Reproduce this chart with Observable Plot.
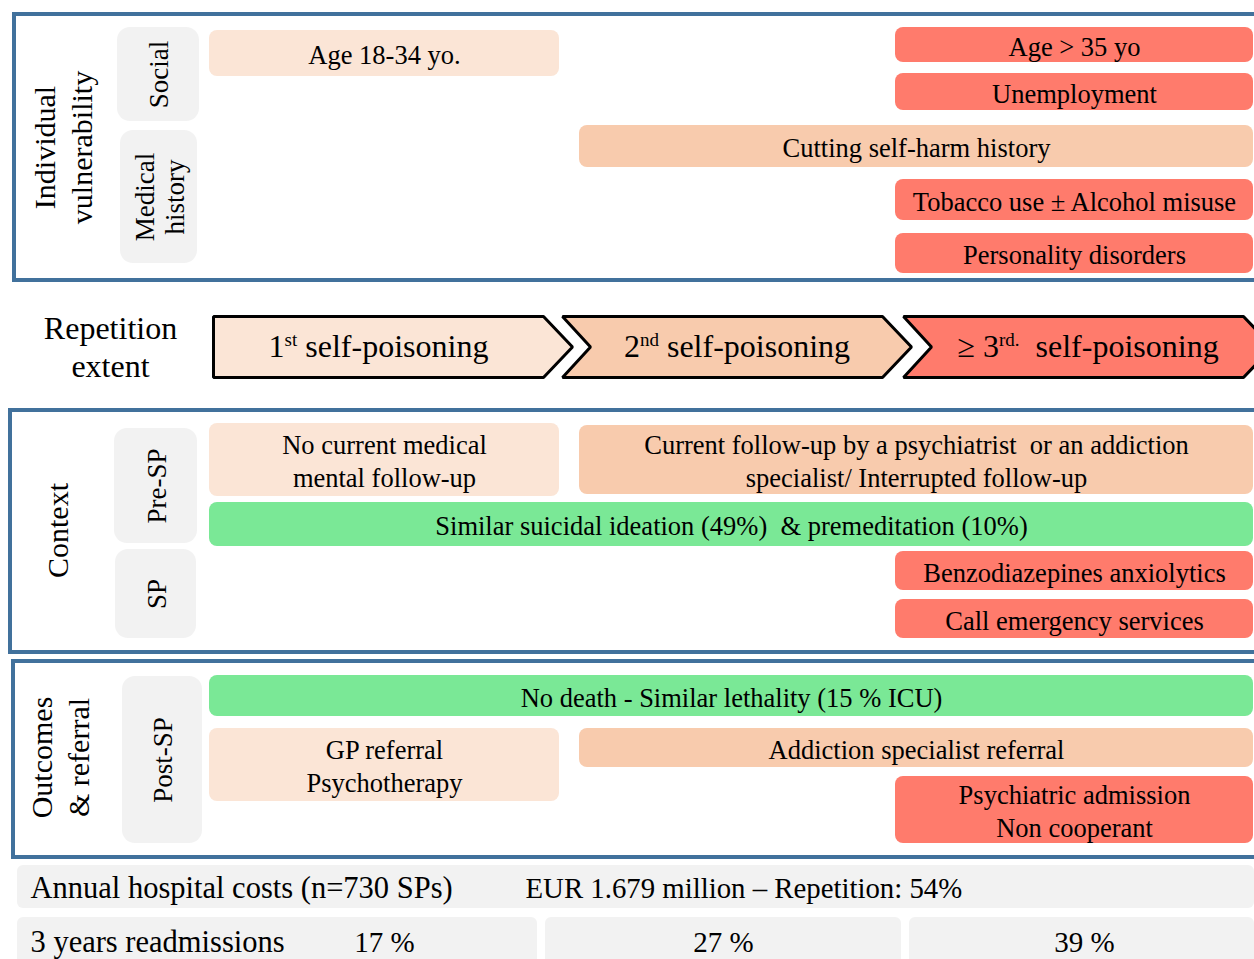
<!DOCTYPE html>
<html><head><meta charset="utf-8">
<script src="https://cdn.jsdelivr.net/npm/d3@7"></script>
<script src="https://cdn.jsdelivr.net/npm/@observablehq/plot@0.6"></script>
<style>
body{margin:0;background:#fff;}
#chart svg{display:block;font-family:"Liberation Serif","Times New Roman",serif;}
</style>
</head><body><div id="chart"></div>
<script>
// ---------------- DATA ----------------
const panelTitles = ["Individual\nvulnerability", "Context", "Outcomes\n& referral"];
const subgroups = [
  {panel: 0, label: "Social"},
  {panel: 0, label: "Medical\nhistory"},
  {panel: 1, label: "Pre-SP"},
  {panel: 1, label: "SP"},
  {panel: 2, label: "Post-SP"}
];
const repetitionLabel = "Repetition\nextent";
const stageLabels = [
  {lead: "1", sup: "st", rest: " self-poisoning"},
  {lead: "2", sup: "nd", rest: " self-poisoning"},
  {lead: "\u2265 3", sup: "rd.", rest: "  self-poisoning"}
];
// from / to = stage index (0 = 1st SP, 1 = 2nd SP, 2 = >=3rd SP); level: 0 similar, 1 low, 2 mid, 3 high
const features = [
  {row: "ageYoung", label: "Age 18-34 yo.", from: 0, to: 0, level: 1},
  {row: "ageOld", label: "Age > 35 yo", from: 2, to: 2, level: 3},
  {row: "unemployment", label: "Unemployment", from: 2, to: 2, level: 3},
  {row: "cutting", label: "Cutting self-harm history", from: 1, to: 2, level: 2},
  {row: "tobacco", label: "Tobacco use \u00b1 Alcohol misuse", from: 2, to: 2, level: 3},
  {row: "personality", label: "Personality disorders", from: 2, to: 2, level: 3},
  {row: "noFollow", label: "No current medical\nmental follow-up", from: 0, to: 0, level: 1},
  {row: "followUp", label: "Current follow-up by a psychiatrist  or an addiction\nspecialist/ Interrupted follow-up", from: 1, to: 2, level: 2},
  {row: "ideation", label: "Similar suicidal ideation (49%)  & premeditation (10%)", from: 0, to: 2, level: 0},
  {row: "benzo", label: "Benzodiazepines anxiolytics", from: 2, to: 2, level: 3},
  {row: "emergency", label: "Call emergency services", from: 2, to: 2, level: 3},
  {row: "death", label: "No death - Similar lethality (15 % ICU)", from: 0, to: 2, level: 0},
  {row: "gp", label: "GP referral\nPsychotherapy", from: 0, to: 0, level: 1},
  {row: "addiction", label: "Addiction specialist referral", from: 1, to: 2, level: 2},
  {row: "psychiatric", label: "Psychiatric admission\nNon cooperant", from: 2, to: 2, level: 3}
];
const costLabel = "Annual hospital costs (n=730 SPs)";
const costValue = "EUR 1.679 million \u2013 Repetition: 54%";
const readmissionLabel = "3 years readmissions";
const readmissions = ["17 %", "27 %", "39 %"];

// ---------------- LAYOUT / STYLE ----------------
const W = 1254, H = 959;
const levelColor = ["#7AE896", "#FBE5D6", "#F8CBAD", "#FF7B6C"];
const blue = "#41719C", gray = "#F2F2F2";
const panelBox = [
  {x: 14, y1: 14, y2: 280},
  {x: 10, y1: 410, y2: 652},
  {x: 13, y1: 661, y2: 857}
];
const panelTitlePos = [[61, 147], [56, 530], [58, 757]];
const tagBox = [
  [117, 199, 27, 121],
  [120, 197, 130, 263],
  [114, 197, 428, 543],
  [115, 196, 549, 638],
  [122, 202, 676, 843]
];
const barStart = [209, 579, 895];
const barEnd = [559, 890, 1253];
const rowY = {
  ageYoung: [30, 76], ageOld: [27, 62], unemployment: [73, 110], cutting: [125, 167],
  tobacco: [179, 220], personality: [233, 273],
  noFollow: [423, 496], followUp: [425, 494], ideation: [502, 546], benzo: [551, 590], emergency: [599, 638],
  death: [675, 716], gp: [728, 801], addiction: [728, 767], psychiatric: [776, 843]
};
const arrowLeft = [213, 562, 903], arrowCorner = [543, 882, 1243], arrowDepth = 29;
const arrowTop = 316, arrowBottom = 377;

const tags = subgroups.map((d, i) => ({...d, x1: tagBox[i][0], x2: tagBox[i][1], y1: tagBox[i][2], y2: tagBox[i][3]}));
const bars = features.map(d => ({
  ...d,
  x1: barStart[d.from], x2: barEnd[d.to],
  y1: rowY[d.row][0], y2: rowY[d.row][1],
  color: levelColor[d.level]
}));
const arrowPts = [];
stageLabels.forEach((s, i) => {
  const L = arrowLeft[i], C = arrowCorner[i], M = (arrowTop + arrowBottom) / 2;
  const pts = [[L, arrowTop], [C, arrowTop], [C + arrowDepth, M], [C, arrowBottom], [L, arrowBottom]];
  if (i > 0) pts.push([L + arrowDepth - 1, M]);
  pts.forEach(p => arrowPts.push({stage: i, x: p[0], y: p[1], color: levelColor[i + 1]}));
});
const arrowText = stageLabels.map((s, i) => ({
  text: s.lead + "^" + s.sup + "^" + s.rest,
  x: ((i > 0 ? arrowLeft[i] + arrowDepth : arrowLeft[i]) + arrowCorner[i]) / 2,
  y: (arrowTop + arrowBottom) / 2
}));
const bottomRects = [
  {x1: 17, x2: 1254, y1: 865, y2: 908},
  {x1: 17, x2: 537, y1: 917, y2: 966},
  {x1: 545, x2: 901, y1: 917, y2: 966},
  {x1: 909, x2: 1254, y1: 917, y2: 966}
];
const bottomText = [
  {text: costLabel, x: 30, y: 888, anchor: "start", size: 30.5},
  {text: costValue, x: 525, y: 888, anchor: "start", size: 28.8},
  {text: readmissionLabel, x: 30, y: 942, anchor: "start", size: 30.5},
  {text: readmissions[0], x: 384, y: 942, anchor: "middle", size: 29},
  {text: readmissions[1], x: 723, y: 942, anchor: "middle", size: 29},
  {text: readmissions[2], x: 1084, y: 942, anchor: "middle", size: 29}
];

const chart = Plot.plot({
  width: W, height: H,
  margin: 0,
  x: {type: "linear", domain: [0, W], range: [0, W], axis: null},
  y: {type: "linear", domain: [0, H], range: [0, H], axis: null},
  color: {type: "identity"},
  style: {fontFamily: "'Liberation Serif','Times New Roman',serif", background: "#fff"},
  marks: [
    // panel frames
    Plot.rect(panelBox, {x1: "x", x2: () => W + 20, y1: "y1", y2: "y2", fill: "none", stroke: blue, strokeWidth: 4}),
    // sub-group tags
    Plot.rect(tags, {x1: "x1", x2: "x2", y1: "y1", y2: "y2", fill: gray, rx: 13}),
    Plot.text(tags, {x: d => (d.x1 + d.x2) / 2, y: d => (d.y1 + d.y2) / 2, text: "label", rotate: -90, fontSize: 27, lineHeight: 1.12, fill: "#000"}),
    // panel titles
    Plot.text(panelTitles, {x: (d, i) => panelTitlePos[i][0], y: (d, i) => panelTitlePos[i][1], text: d => d, rotate: -90, fontSize: 30, lineHeight: 1.22, fill: "#000"}),
    // feature bars
    Plot.rect(bars, {x1: "x1", x2: "x2", y1: "y1", y2: "y2", fill: "color", rx: 8}),
    Plot.text(bars, {x: d => (d.x1 + d.x2) / 2, y: d => (d.y1 + d.y2) / 2, text: "label", fontSize: 26.5, lineHeight: 1.25, fill: "#000"}),
    // repetition arrows
    Plot.text([repetitionLabel], {x: () => 110, y: () => 345, text: d => d, fontSize: 32, lineHeight: 1.19, fill: "#000"}),
    Plot.line(arrowPts, {x: "x", y: "y", z: "stage", fill: "color", stroke: "#000", strokeWidth: 3, curve: "linear-closed", strokeLinejoin: "miter"}),
    Plot.text(arrowText, {x: "x", y: "y", text: "text", fontSize: 32, fill: "#000"}),
    // bottom summary
    Plot.rect(bottomRects, {x1: "x1", x2: "x2", y1: "y1", y2: "y2", fill: gray, rx: 6}),
    Plot.text(bottomText, {x: "x", y: "y", text: "text", fontSize: "size", fill: "#000"})
  ]
});
// turn "^sup^" markers into real superscripts
d3.select(chart).selectAll("text").each(function() {
  const t = this.textContent;
  if (!t.includes("^")) return;
  const [a, b, c] = t.split("^");
  const el = d3.select(this);
  el.text(null);
  el.append("tspan").text(a);
  el.append("tspan").attr("dy", "-11").attr("font-size", "19").text(b);
  el.append("tspan").attr("dy", "11").text(c);
});
// left-aligned bottom texts
d3.select(chart).selectAll("text").each(function() {
  const t = this.textContent;
  const found = bottomText.find(d => d.text === t);
  if (found) this.setAttribute("text-anchor", found.anchor);
});
document.getElementById("chart").appendChild(chart);
</script>
</body></html>
